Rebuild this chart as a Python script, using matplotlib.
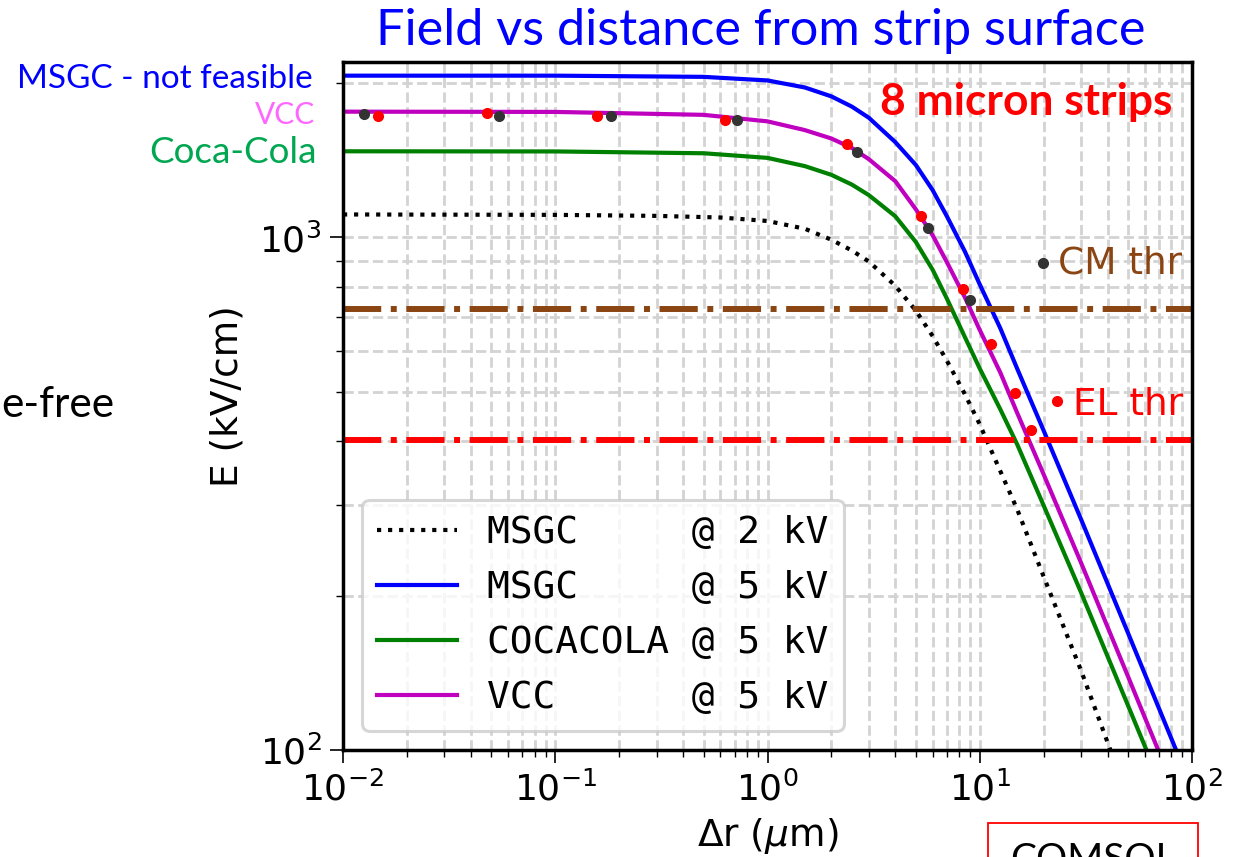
import matplotlib
matplotlib.use("Agg")
import matplotlib.pyplot as plt
from matplotlib.patches import Rectangle
from matplotlib.ticker import NullFormatter

# ---------------- data ----------------
x_msgc2 = [0.01, 0.1, 0.3, 0.6, 1.0, 1.5, 2.0, 2.5, 3.0, 4.0, 5.0, 6.0, 7.0, 8.5, 10, 12.5, 15, 20, 30, 42]
E_msgc2 = [1109, 1107, 1102, 1094, 1077, 1040, 990, 943, 898, 805, 720, 642, 575, 495, 432, 350, 295, 218, 143, 98]

x_msgc5 = [0.01, 0.1, 0.5, 1.0, 1.5, 2.0, 2.5, 3.0, 4.0, 5.0, 6.0, 7.0, 8.5, 10, 12.5, 15, 20, 30, 50, 100]
E_msgc5 = [2069, 2069, 2058, 2025, 1962, 1885, 1800, 1713, 1535, 1385, 1237, 1100, 940, 810, 665, 555, 420, 282, 169, 84]

x_coca = [0.01, 0.1, 0.5, 1.0, 1.5, 2.0, 2.5, 3.0, 4.0, 5.0, 6.0, 7.0, 8.5, 10, 12.5, 15, 20, 30, 50, 100]
E_coca = [1473, 1472, 1460, 1430, 1378, 1325, 1268, 1210, 1100, 980, 865, 760, 640, 555, 462, 395, 300, 203, 122, 61]

x_vcc = [0.01, 0.1, 0.5, 1.0, 1.5, 2.0, 2.5, 3.0, 4.0, 5.0, 6.0, 7.0, 8.5, 10, 12.5, 15, 20, 30, 50, 100]
E_vcc = [1760, 1758, 1735, 1685, 1620, 1560, 1495, 1422, 1288, 1135, 1010, 895, 765, 660, 545, 455, 345, 232, 139, 69]

x_grey_pts = [0.01259, 0.0543, 0.183, 0.721, 2.63, 5.70, 9.0]
E_grey_pts = [1742, 1724, 1724, 1696, 1471, 1044, 754]
x_red_pts = [0.01458, 0.0475, 0.158, 0.631, 2.37, 5.31, 8.31, 11.26, 14.66, 17.44]
E_red_pts = [1724, 1747, 1724, 1696, 1520, 1099, 794, 620, 498, 421]

CM_thr = 725
EL_thr = 402
cm_key = (19.9, 891)
el_key = (23.05, 480)

legend_labels = ["MSGC     @ 2 kV", "MSGC     @ 5 kV", "COCACOLA @ 5 kV", "VCC      @ 5 kV"]

# ---------------- figure ----------------
W, H = 1253, 857
fig = plt.figure(figsize=(W / 100, H / 100), dpi=100)
ax = fig.add_axes([343 / W, 1 - 750 / H, (1192 - 343) / W, (750 - 62) / H])
ax.set_xscale("log")
ax.set_yscale("log")

ax.plot(x_msgc2, E_msgc2, ":", color="black", lw=3, label=legend_labels[0])
ax.plot(x_msgc5, E_msgc5, "-", color="b", lw=3, label=legend_labels[1])
ax.plot(x_coca, E_coca, "-", color="g", lw=3, label=legend_labels[2])
ax.plot(x_vcc, E_vcc, "-", color="m", lw=3, label=legend_labels[3])

ax.axhline(CM_thr, color="#8B4513", ls="-.", lw=4.3)
ax.axhline(EL_thr, color="red", ls="-.", lw=4.3)

ax.plot(x_grey_pts, E_grey_pts, "o", color="#333333", ms=7, ls="none", zorder=5)
ax.plot(x_red_pts, E_red_pts, "o", color="red", ms=7, ls="none", zorder=5)
ax.plot([cm_key[0]], [cm_key[1]], "o", color="#333333", ms=7, zorder=5)
ax.plot([el_key[0]], [el_key[1]], "o", color="red", ms=7, zorder=5)

ax.text(23.4, 851, "CM thr", color="#8B4513", fontsize=27, va="baseline", ha="left")
ax.text(27.5, 450, "EL thr", color="red", fontsize=27, va="baseline", ha="left")

ax.set_xlim(1e-2, 1e2)
ax.set_ylim(100, 2200)
ax.grid(True, which="both", ls="--", lw=2, color="lightgray")
ax.set_axisbelow(True)
ax.yaxis.set_minor_formatter(NullFormatter())
ax.xaxis.set_minor_formatter(NullFormatter())

for s in ax.spines.values():
    s.set_linewidth(2.5)
ax.tick_params(which="major", length=9.5, width=1.2, labelsize=26, pad=6)
ax.tick_params(which="minor", length=5, width=1.0)

ax.set_xlabel(r"$\Delta$r ($\mu$m)", fontsize=27, labelpad=6)
ax.set_ylabel("E (kV/cm)", fontsize=27)
ax.yaxis.set_label_coords(-0.115, 0.515)

leg = ax.legend(loc="lower left", prop={"family": "DejaVu Sans Mono", "size": 27.3},
                handlelength=2.1, framealpha=0.8)
leg.get_frame().set_edgecolor("0.8")
leg.get_frame().set_linewidth(2.2)

# ---------------- slide text around the chart ----------------
def fx(px):
    return px / W

def fy(py):
    return 1 - py / H

slide_font = "Lato"
title = fig.text(fx(761), fy(45), "Field vs distance from strip surface", color="blue",
                 fontsize=34, family=slide_font, ha="center", va="baseline")
t1 = fig.text(fx(313), fy(88), "MSGC - not feasible", color="blue", fontsize=22,
              family=slide_font, ha="right", va="baseline")
t2 = fig.text(fx(315), fy(124), "VCC", color="#FF66FF", fontsize=22,
              family=slide_font, ha="right", va="baseline")
t3 = fig.text(fx(317), fy(163), "Coca-Cola", color="#00A650", fontsize=22,
              family=slide_font, ha="right", va="baseline")
t4 = fig.text(fx(114), fy(417), "e-free", color="black", fontsize=26,
              family=slide_font, ha="right", va="baseline")
t5 = fig.text(fx(880), fy(115), "8 micron strips", color="red", fontsize=24,
              fontweight="bold", family=slide_font, ha="left", va="baseline")

fig.patches.append(Rectangle((fx(988), fy(880)), (1198 - 988) / W, (880 - 823) / H,
                             transform=fig.transFigure, fill=False, edgecolor="red",
                             lw=1.3, figure=fig))
fig.text(fx(1093), fy(871), "COMSOL", color="black", fontsize=28, family=slide_font,
         ha="center", va="baseline")

fig.canvas.draw()
r = fig.canvas.get_renderer()
for t, target in [(title, 772), (t1, 295), (t2, 60), (t3, 167), (t4, 113), (t5, 292)]:
    w = t.get_window_extent(r).width
    t.set_fontsize(t.get_fontsize() * target / w)

fig.savefig("out.png", dpi=100)
